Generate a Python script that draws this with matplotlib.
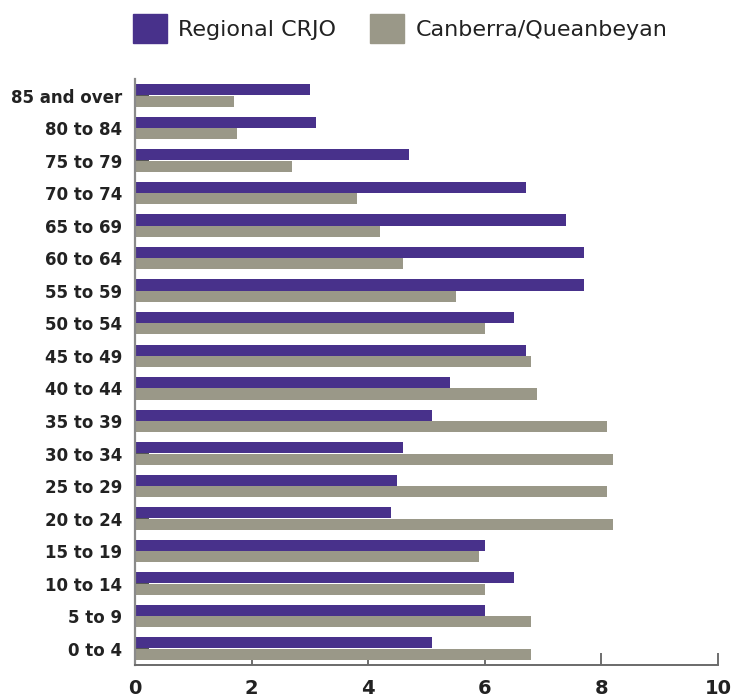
import numpy as np
import matplotlib
matplotlib.use('Agg')
from matplotlib import pyplot as plt
from matplotlib.patches import Patch

# age groups, bottom to top
ages = ['0 to 4', '5 to 9', '10 to 14', '15 to 19', '20 to 24', '25 to 29',
        '30 to 34', '35 to 39', '40 to 44', '45 to 49', '50 to 54', '55 to 59',
        '60 to 64', '65 to 69', '70 to 74', '75 to 79', '80 to 84', '85 and over']
# percent of population
regional = [5.1, 6.0, 6.5, 6.0, 4.4, 4.5, 4.6, 5.1, 5.4, 6.7, 6.5, 7.7,
            7.7, 7.4, 6.7, 4.7, 3.1, 3.0]
canberra = [6.8, 6.8, 6.0, 5.9, 8.2, 8.1, 8.2, 8.1, 6.9, 6.8, 6.0, 5.5,
            4.6, 4.2, 3.8, 2.7, 1.75, 1.7]

purple = '#48318b'
grey = '#9a9888'

plt.rcParams['font.family'] = ['DejaVu Sans']

fig = plt.figure(figsize=(7.34, 6.97), dpi=100)
ax = fig.add_axes([0.184, 0.046, 0.794, 0.840])

y = np.arange(len(ages))
h = 0.34
ax.barh(y + h / 2 + 0.01, regional, height=h, color=purple, zorder=2)
ax.barh(y - h / 2, canberra, height=h, color=grey, zorder=2)

ax.set_axisbelow(True)
ax.set_xlim(0, 10)
ax.set_ylim(-0.5, 17.5)
ax.set_xticks([0, 2, 4, 6, 8, 10])
ax.set_yticks(y)
ax.set_yticklabels(ages, fontsize=12, fontweight='bold', color='#222222')
ax.tick_params(axis='y', direction='in', length=10, width=1.2, color='#333333', pad=9)
ax.tick_params(axis='x', direction='in', length=9, width=1.2, color='#555555', pad=10,
               labelsize=14)
for t in ax.get_xticklabels():
    t.set_fontweight('bold')
    t.set_color('#222222')

for s in ['top', 'right']:
    ax.spines[s].set_visible(False)
ax.spines['left'].set_color('#8a8a8a')
ax.spines['left'].set_linewidth(1.6)
ax.spines['bottom'].set_color('#6a6a6a')
ax.spines['bottom'].set_linewidth(1.4)

handles = [Patch(color=purple, label='Regional CRJO'),
           Patch(color=grey, label='Canberra/Queanbeyan')]
fig.legend(handles=handles, loc='upper center', bbox_to_anchor=(0.545, 1.008), ncol=2,
           frameon=False, fontsize=16, handlelength=1.55, handleheight=1.6,
           handletextpad=0.5, columnspacing=1.5, labelcolor='#222222')

fig.savefig('out.png', dpi=100)
